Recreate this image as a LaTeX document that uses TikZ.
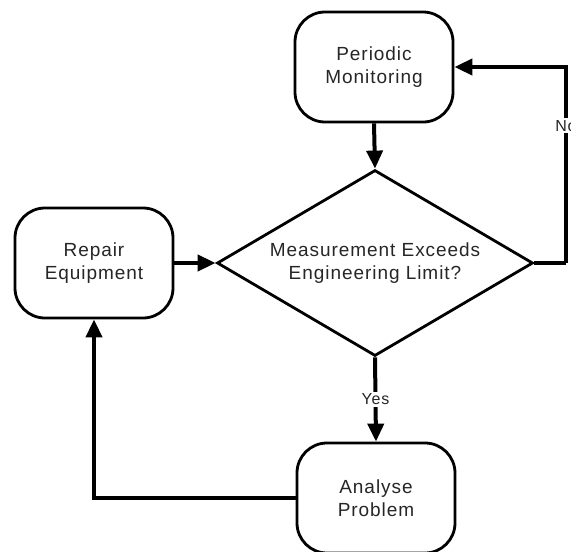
\documentclass[tikz,border=0pt]{standalone}
\usepackage{fontspec}
\usetikzlibrary{arrows.meta,shapes.geometric}
\newfontfamily\lblfont[LetterSpace=5]{Liberation Sans}

\tikzset{
  procbox/.style={draw, line width=2.8pt, rounded corners=30pt, fill=white,
    minimum width=158pt, minimum height=110pt, align=center, text=black!85,
    font=\lblfont\fontsize{19}{23}\selectfont},
  decision/.style={draw, line width=2.8pt, shape=diamond, aspect=1.7, inner sep=0pt,
    minimum width=316pt, minimum height=186pt, align=center, text=black!85,
    font=\lblfont\fontsize{19}{23}\selectfont},
  flow/.style={line width=4pt, -{Triangle[length=18pt,width=16pt]}},
  link/.style={line width=4pt},
  edgelabel/.style={fill=white, inner sep=2pt, text=black!85,
    font=\lblfont\fontsize{16}{19}\selectfont}
}

\begin{document}
\begin{tikzpicture}[x=1pt,y=-1pt]
  \useasboundingbox (0,0) rectangle (571,552);
  \clip (0,0) rectangle (571,552);

  % process steps and the decision
  \node[procbox] (pm)  at (374,67)  {Periodic\\Monitoring};
  \node[decision] (dec) at (375,263) {Measurement Exceeds\\Engineering Limit?};
  \node[procbox] (rep) at (94,263)  {Repair\\Equipment};
  \node[procbox] (ana) at (376,498) {Analyse\\Problem};

  % turning point of the "No" loop
  \coordinate (noturn) at (566,263);

  % connectors
  \draw[flow] (pm.south) -- (dec.north);
  \draw[flow] (rep.east) -- (dec.west);
  \draw[flow] (dec.south) -- node[edgelabel] {Yes} (ana.north);
  \draw[link] (dec.east) -- (noturn);
  \draw[flow] (noturn) |- node[edgelabel, pos=0.35] {No} (pm.east);
  \draw[flow] (ana.west) -| (rep.south);
\end{tikzpicture}
\end{document}
